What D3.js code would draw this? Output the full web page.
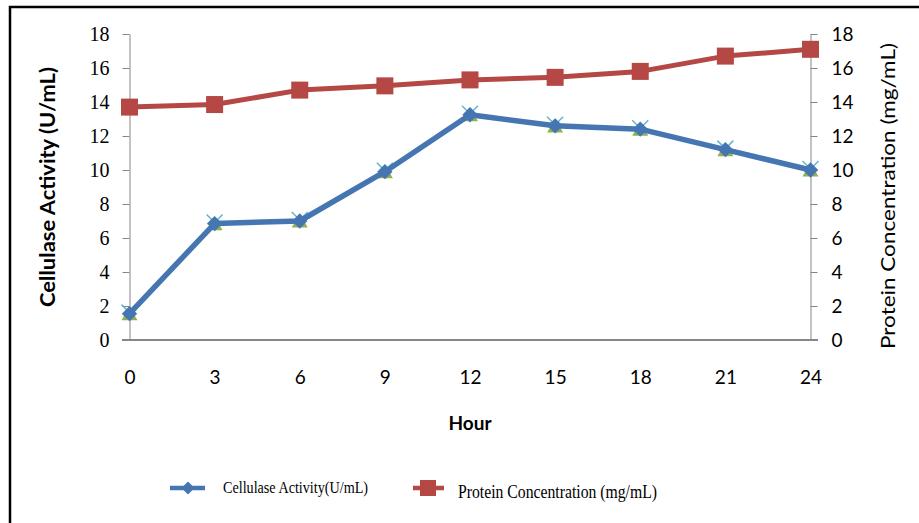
<!DOCTYPE html>
<html>
<head>
<meta charset="utf-8">
<script src="https://cdn.jsdelivr.net/npm/d3@7"></script>
<style>
  html, body { margin: 0; padding: 0; background: #fff; }
  svg { display: block; }
</style>
</head>
<body>
<svg id="chart" width="919" height="523"></svg>
<script>
// Sampling times (hours)
const hours = [0, 3, 6, 9, 12, 15, 18, 21, 24];
// Cellulase activity (U/mL)
const cellulase = [1.55, 6.85, 7.0, 9.9, 13.25, 12.6, 12.4, 11.2, 10.0];
// Protein concentration (mg/mL)
const protein = [13.7, 13.85, 14.7, 14.95, 15.3, 15.45, 15.8, 16.7, 17.1];
// Helper series plotted underneath the activity curve
const activityTri = [1.55, 6.85, 7.0, 9.9, 13.25, 12.6, 12.4, 11.2, 10.0];
const activityX = [1.55, 6.85, 7.0, 9.9, 13.25, 12.6, 12.4, 11.2, 10.0];
// Axis ticks
const yTicks = [0, 2, 4, 6, 8, 10, 12, 14, 16, 18];
const xTicks = [0, 3, 6, 9, 12, 15, 18, 21, 24];

const svg = d3.select("#chart");
const blue = "#4576b2", red = "#b54744", green = "#8fb151", cyan = "#5fb6d0", axisGrey = "#868686";

// Outer frame
svg.append("rect").attr("x", 10).attr("y", 7).attr("width", 930).attr("height", 540)
  .attr("fill", "none").attr("stroke", "#000").attr("stroke-width", 2.5);

const x = d3.scaleLinear().domain([0, 24]).range([129.5, 810.5]);
const yL = d3.scaleLinear().domain([0, 18]).range([340, 34]);
const yR = d3.scaleLinear().domain([0, 18]).range([340, 34]);

// Left axis
const gL = svg.append("g").attr("transform", "translate(129.5,0)")
  .call(d3.axisLeft(yL).tickValues(yTicks).tickSize(7).tickSizeOuter(0).tickPadding(13));
gL.select(".domain").attr("stroke", axisGrey);
gL.selectAll(".tick line").attr("stroke", axisGrey);
gL.selectAll(".tick text").attr("font-family", "Liberation Serif").attr("font-size", 20).attr("fill", "#000");

// Right axis
const gR = svg.append("g").attr("transform", "translate(810.5,0)")
  .call(d3.axisRight(yR).tickValues(yTicks).tickSize(7).tickSizeOuter(0).tickPadding(14));
gR.select(".domain").attr("stroke", axisGrey);
gR.selectAll(".tick line").attr("stroke", axisGrey);
gR.selectAll(".tick text").attr("font-family", "Lato").attr("font-size", 19).attr("fill", "#000");

// Bottom axis (labels only; the baseline is drawn across the full plot width)
const gX = svg.append("g").attr("transform", "translate(0,340)")
  .call(d3.axisBottom(x).tickValues(xTicks).tickSize(0).tickPadding(31));
gX.select(".domain").remove();
gX.selectAll(".tick text").attr("font-family", "Lato").attr("font-size", 19).attr("fill", "#000");
svg.append("line").attr("x1", 122).attr("x2", 818).attr("y1", 340).attr("y2", 340)
  .attr("stroke", axisGrey).attr("stroke-width", 2);

// Axis titles
svg.append("text").attr("transform", "translate(55,187) rotate(-90)")
  .attr("text-anchor", "middle").attr("font-family", "Lato").attr("font-weight", "bold")
  .attr("font-size", 20).attr("textLength", 240).attr("lengthAdjust", "spacingAndGlyphs")
  .text("Cellulase Activity (U/mL)");
svg.append("text").attr("transform", "translate(895,196) rotate(-90)")
  .attr("text-anchor", "middle").attr("font-family", "Lato")
  .attr("font-size", 20).attr("textLength", 306).attr("lengthAdjust", "spacingAndGlyphs")
  .text("Protein Concentration (mg/mL)");
svg.append("text").attr("x", 470).attr("y", 430)
  .attr("text-anchor", "middle").attr("font-family", "Lato").attr("font-weight", "bold")
  .attr("font-size", 19).text("Hour");

const lineL = d3.line().x((d, i) => x(hours[i])).y(d => yL(d));
const lineR = d3.line().x((d, i) => x(hours[i])).y(d => yR(d));

// Hidden helper markers beneath the activity curve
svg.append("g").selectAll("path").data(activityTri).join("path")
  .attr("transform", (d, i) => `translate(${x(hours[i])},${yL(d) + 2})`)
  .attr("d", d3.symbol(d3.symbolTriangle, 110)())
  .attr("fill", green);
svg.append("g").selectAll("path").data(activityX).join("path")
  .attr("transform", (d, i) => `translate(${x(hours[i])},${yL(d) - 1})`)
  .attr("d", "M-8,-8L0,0M8,-8L0,0")
  .attr("stroke", cyan).attr("stroke-width", 1.5).attr("fill", "none");

// Protein concentration series
svg.append("path").datum(protein).attr("d", lineR)
  .attr("fill", "none").attr("stroke", red).attr("stroke-width", 5).attr("stroke-linejoin", "round");
svg.append("g").selectAll("rect").data(protein).join("rect")
  .attr("x", (d, i) => x(hours[i]) - 8.5).attr("y", d => yR(d) - 8.5)
  .attr("width", 17).attr("height", 17).attr("fill", red);

// Cellulase activity series
svg.append("path").datum(cellulase).attr("d", lineL)
  .attr("fill", "none").attr("stroke", blue).attr("stroke-width", 5.5).attr("stroke-linejoin", "round");
svg.append("g").selectAll("path").data(cellulase).join("path")
  .attr("transform", (d, i) => `translate(${x(hours[i])},${yL(d)})`)
  .attr("d", d3.symbol(d3.symbolDiamond2, 150)())
  .attr("fill", blue);

// Legend
const legend = svg.append("g");
legend.append("line").attr("x1", 170).attr("x2", 205).attr("y1", 488).attr("y2", 488)
  .attr("stroke", blue).attr("stroke-width", 4.5);
legend.append("path").attr("transform", "translate(188,488)")
  .attr("d", d3.symbol(d3.symbolDiamond2, 110)()).attr("fill", blue);
legend.append("text").attr("x", 223).attr("y", 493)
  .attr("font-family", "Liberation Serif").attr("font-size", 16)
  .attr("textLength", 145).attr("lengthAdjust", "spacingAndGlyphs")
  .text("Cellulase Activity(U/mL)");
legend.append("line").attr("x1", 413).attr("x2", 444).attr("y1", 488).attr("y2", 488)
  .attr("stroke", red).attr("stroke-width", 4.5);
legend.append("rect").attr("x", 420).attr("y", 480).attr("width", 16).attr("height", 16).attr("fill", red);
legend.append("text").attr("x", 458).attr("y", 498)
  .attr("font-family", "Liberation Serif").attr("font-size", 18)
  .attr("textLength", 199).attr("lengthAdjust", "spacingAndGlyphs")
  .text("Protein Concentration (mg/mL)");
</script>
</body>
</html>
